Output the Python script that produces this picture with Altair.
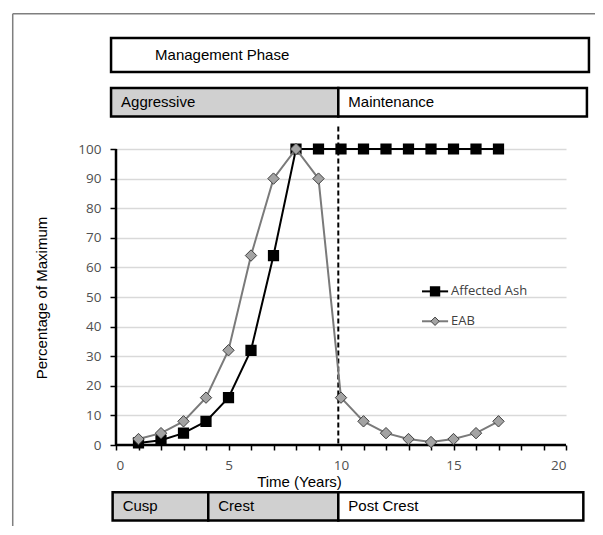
import altair as alt
import pandas as pd

# ---- series data ----
years = list(range(1, 18))
affected_ash = [0.7, 1.6, 4, 8, 16, 32, 64, 100, 100, 100, 100, 100, 100, 100, 100, 100, 100]
eab = [2, 4, 8, 16, 32, 64, 90, 100, 90, 16, 8, 4, 2, 1, 2, 4, 8]
series_names = ["Affected Ash", "EAB"]

# ---- phase boxes (data units: years / percent) ----
box_labels = ["Management Phase", "Aggressive", "Maintenance", "Cusp", "Crest", "Post Crest"]
box_x1 = [-0.22, -0.22, 9.88, -0.15, 4.1, 9.88]
box_x2 = [21.02, 9.88, 20.93, 4.1, 9.88, 20.77]
box_y1 = [126.0, 111.0, 111.0, -25.5, -25.5, -25.5]
box_y2 = [137.5, 120.6, 120.6, -16.0, -16.0, -16.0]
box_fill = ["white", "#d0d0d0", "white", "#d0d0d0", "#d0d0d0", "white"]

# phase change line
change_year = 9.88

# axis ranges, tick values
x_domain = [0, 20]
y_domain = [0, 100]
x_ticks = list(range(0, 21))
y_ticks = list(range(0, 101, 10))

FONT_BOX = "Liberation Sans"
FONT_NUM = "Open Sans"

ash_df = pd.DataFrame({"year": years, "value": affected_ash})
eab_df = pd.DataFrame({"year": years, "value": eab})
box_df = pd.DataFrame({"label": box_labels, "x1": box_x1, "x2": box_x2,
                       "y1": box_y1, "y2": box_y2, "fill": box_fill})
box_df["ym"] = (box_df["y1"] + box_df["y2"]) / 2

xs = alt.Scale(domain=x_domain, nice=False, zero=False)
ys = alt.Scale(domain=y_domain, nice=False, zero=False)

x_axis = alt.Axis(
    values=x_ticks, grid=False, domain=False, tickSize=5,
    tickColor="black", tickWidth=1.5,
    labelExpr="datum.value % 5 == 0 ? datum.label : ''",
    labelPadding=8,
    title="Time (Years)", titleX=183, titleY=36, titleBaseline="middle",
)
y_axis = alt.Axis(
    values=y_ticks, grid=True, domain=False, tickSize=6, labelPadding=9,
    tickColor="black", tickWidth=1.5,
    title="Percentage of Maximum", titleX=-75, titleY=148.5, titleBaseline="middle",
)


def X(field):
    return alt.X(field, scale=xs, axis=x_axis)


def Y(field):
    return alt.Y(field, scale=ys, axis=y_axis)


# frame (gray border of the figure)
frame_df = pd.DataFrame({"x": [-4.59], "x2": [22.5], "y": [145.7], "y2": [-31.0]})
frame_left = alt.Chart(frame_df).mark_rule(color="#7f7f7f", strokeWidth=1.5).encode(
    x=X("x:Q"), y=Y("y:Q"), y2="y2:Q")
frame_top = alt.Chart(frame_df).mark_rule(color="#7f7f7f", strokeWidth=1.5).encode(
    x=X("x:Q"), x2="x2:Q", y=Y("y:Q"))

# axis lines (black)
axes_df = pd.DataFrame({"x0": [x_domain[0]], "x1": [x_domain[1]],
                        "y0": [y_domain[0]], "y1": [y_domain[1]]})
x_line = alt.Chart(axes_df).mark_rule(color="black", strokeWidth=2.5).encode(
    x=X("x0:Q"), x2="x1:Q", y=Y("y0:Q"))
y_line = alt.Chart(axes_df).mark_rule(color="black", strokeWidth=2.5).encode(
    x=X("x0:Q"), y=Y("y0:Q"), y2="y1:Q")

boxes = alt.Chart(box_df).mark_rect(stroke="black", strokeWidth=2.5).encode(
    x=X("x1:Q"), x2="x2:Q", y=Y("y1:Q"), y2="y2:Q",
    fill=alt.Fill("fill:N", scale=None),
)
box_text_main = alt.Chart(box_df).transform_filter(
    alt.datum.label == "Management Phase").mark_text(
    align="left", baseline="middle", dx=44, font=FONT_BOX, fontSize=15, color="black").encode(
    x=X("x1:Q"), y=Y("ym:Q"), text="label:N")
box_text_other = alt.Chart(box_df).transform_filter(
    alt.datum.label != "Management Phase").mark_text(
    align="left", baseline="middle", dx=10, font=FONT_BOX, fontSize=15, color="black").encode(
    x=X("x1:Q"), y=Y("ym:Q"), text="label:N")

dash_df = pd.DataFrame({"x": [change_year], "y": [107.6], "y2": [0]})
dashed = alt.Chart(dash_df).mark_rule(color="black", strokeWidth=2, strokeDash=[5, 3]).encode(
    x=X("x:Q"), y=Y("y:Q"), y2="y2:Q")

ash_line = alt.Chart(ash_df).mark_line(color="black", strokeWidth=2).encode(
    x=X("year:Q"), y=Y("value:Q"))
ash_pts = alt.Chart(ash_df).mark_point(shape="square", filled=True, fill="black",
                                        stroke="black", size=85, opacity=1).encode(
    x=X("year:Q"), y=Y("value:Q"))
eab_line = alt.Chart(eab_df).mark_line(color="#7a7a7a", strokeWidth=2).encode(
    x=X("year:Q"), y=Y("value:Q"))
eab_pts = alt.Chart(eab_df).mark_point(shape="diamond", filled=True, fill="#a3a3a3",
                                        stroke="#3f3f3f", strokeWidth=1, size=130, opacity=1).encode(
    x=X("year:Q"), y=Y("value:Q"))

# legend (drawn manually)
leg_df = pd.DataFrame({"name": series_names, "x": [13.6, 13.6], "x2": [14.76, 14.76],
                       "xm": [14.18, 14.18], "y": [51.9, 41.8]})
leg_ash = leg_df[leg_df["name"] == "Affected Ash"]
leg_eab = leg_df[leg_df["name"] == "EAB"]
leg_line_ash = alt.Chart(leg_ash).mark_rule(color="black", strokeWidth=2).encode(
    x=X("x:Q"), x2="x2:Q", y=Y("y:Q"))
leg_pt_ash = alt.Chart(leg_ash).mark_point(shape="square", filled=True, fill="black",
                                            stroke="black", size=70, opacity=1).encode(
    x=X("xm:Q"), y=Y("y:Q"))
leg_line_eab = alt.Chart(leg_eab).mark_rule(color="#7a7a7a", strokeWidth=2).encode(
    x=X("x:Q"), x2="x2:Q", y=Y("y:Q"))
leg_pt_eab = alt.Chart(leg_eab).mark_point(shape="diamond", filled=True, fill="#a3a3a3",
                                            stroke="#3f3f3f", strokeWidth=1, size=70, opacity=1).encode(
    x=X("xm:Q"), y=Y("y:Q"))
leg_text = alt.Chart(leg_df).mark_text(align="left", baseline="middle", dx=3,
                                       font=FONT_NUM, fontSize=13, color="#404040").encode(
    x=X("x2:Q"), y=Y("y:Q"), text="name:N")

chart = alt.layer(
    frame_left, frame_top, boxes, box_text_main, box_text_other, dashed,
    x_line, y_line,
    ash_line, ash_pts, eab_line, eab_pts,
    leg_line_ash, leg_pt_ash, leg_line_eab, leg_pt_eab, leg_text,
).properties(
    width=450, height=296,
    padding={"left": 108, "top": 141, "right": 29, "bottom": 81},
    autosize=alt.AutoSizeParams(type="none"),
    background="white",
).configure_view(stroke=None).configure_axis(
    tickColor="black", tickWidth=1.5, tickOpacity=1,
    gridColor="#d9d9d9", gridWidth=1.5, gridOpacity=1,
    labelFont=FONT_NUM, labelFontSize=13.5, labelColor="#505050",
    titleFont=FONT_BOX, titleFontSize=15, titleFontWeight="normal", titleColor="black",
)

chart.save("out.html", embed_options={"renderer": "svg", "actions": False})
